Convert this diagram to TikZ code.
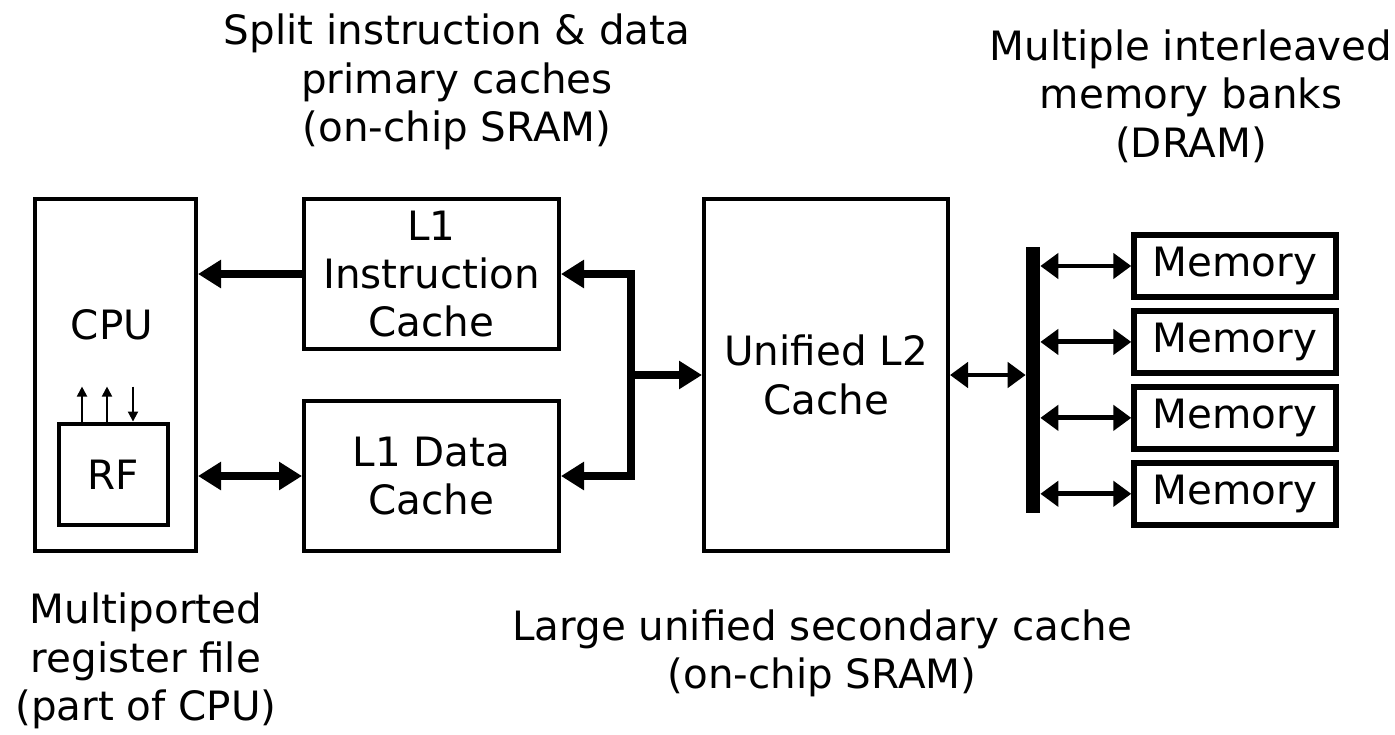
\documentclass[tikz,border=0pt]{standalone}
\usepackage{fontspec}
\setmainfont{DejaVu Sans}
\usetikzlibrary{arrows.meta, positioning}

\begin{document}
\begin{tikzpicture}[
    x=0.02cm, y=-0.02cm,
    every node/.style={font=\fontsize{23}{27.5}\selectfont},
    block/.style={rectangle, draw=black, line width=2.3pt,
                  align=center, fill=white},
    mem/.style={block, line width=3.1pt,
                minimum width=4.04cm, minimum height=1.24cm},
    note/.style={align=center},
    link/.style={line width=4.5pt, >={Triangle[length=0.46cm, width=0.54cm]}},
    buslink/.style={<->, line width=2.8pt, >={Triangle[length=0.36cm, width=0.5cm]}},
    port/.style={->, line width=1.1pt, >={Triangle[length=0.2cm, width=0.2cm]}}
  ]
    \useasboundingbox (0,0) rectangle (1395,734);

    % processor and register file
    \node[block, minimum width=3.22cm, minimum height=7.04cm] (cpu) at (115.5,375) {};
    \node (cpulbl) at (112,325) {CPU};
    \node[block, line width=2.8pt, minimum width=2.18cm, minimum height=2.02cm] (rf) at (113.5,474.5) {RF};

    % caches
    \node[block, minimum width=5.1cm, minimum height=3.0cm] (l1i) at (431.5,274) {L1\\Instruction\\Cache};
    \node[block, minimum width=5.1cm, minimum height=3.0cm, below=0.96cm of l1i] (l1d) {L1 Data\\Cache};
    \node[block, minimum width=4.88cm, minimum height=7.04cm] (l2) at (826,375) {Unified L2\\Cache};

    % memory banks on the bus
    \node[fill=black, inner sep=0pt, minimum width=0.28cm, minimum height=5.32cm] (bus) at (1033,380) {};
    \node[mem] (mem1) at (1235,266) {Memory};
    \node[mem, below=0.17cm of mem1] (mem2) {Memory};
    \node[mem, below=0.17cm of mem2] (mem3) {Memory};
    \node[mem, below=0.17cm of mem3] (mem4) {Memory};

    \draw[link, ->] (l1i.west) -- (l1i.west -| cpu.east);
    \draw[link, <->] (cpu.east |- l1d.west) -- (l1d.west);
    \coordinate (fork) at (631,375);
    \draw[link, ->] (fork) |- (l1i.east);
    \draw[link, ->] (fork) |- (l1d.east);
    \draw[link, ->] (fork) -- (fork -| l2.west);

    \draw[port] ([xshift=-0.63cm]rf.north) -- ([xshift=-0.63cm, yshift=0.7cm]rf.north);
    \draw[port] ([xshift=-0.13cm]rf.north) -- ([xshift=-0.13cm, yshift=0.7cm]rf.north);
    \draw[port] ([xshift=0.39cm, yshift=0.7cm]rf.north) -- ([xshift=0.39cm]rf.north);

    \draw[buslink] (l2.east) -- (l2.east -| bus.west);
    \draw[buslink] (bus.east |- mem1.west) -- (mem1.west);
    \draw[buslink] (bus.east |- mem2.west) -- (mem2.west);
    \draw[buslink] (bus.east |- mem3.west) -- (mem3.west);
    \draw[buslink] (bus.east |- mem4.west) -- (mem4.west);

    % captions
    \node[note] (splitlbl) at (457,82) {Split instruction \& data\\primary caches\\(on-chip SRAM)};
    \node[note] (banklbl) at (1191,96) {Multiple interleaved\\memory banks\\(DRAM)};
    \node[note] (rflbl) at (146,661) {Multiported\\register file\\(part of CPU)};
    \node[note] (l2lbl) at (822,653) {Large unified secondary cache\\(on-chip SRAM)};
  \end{tikzpicture}
\end{document}
